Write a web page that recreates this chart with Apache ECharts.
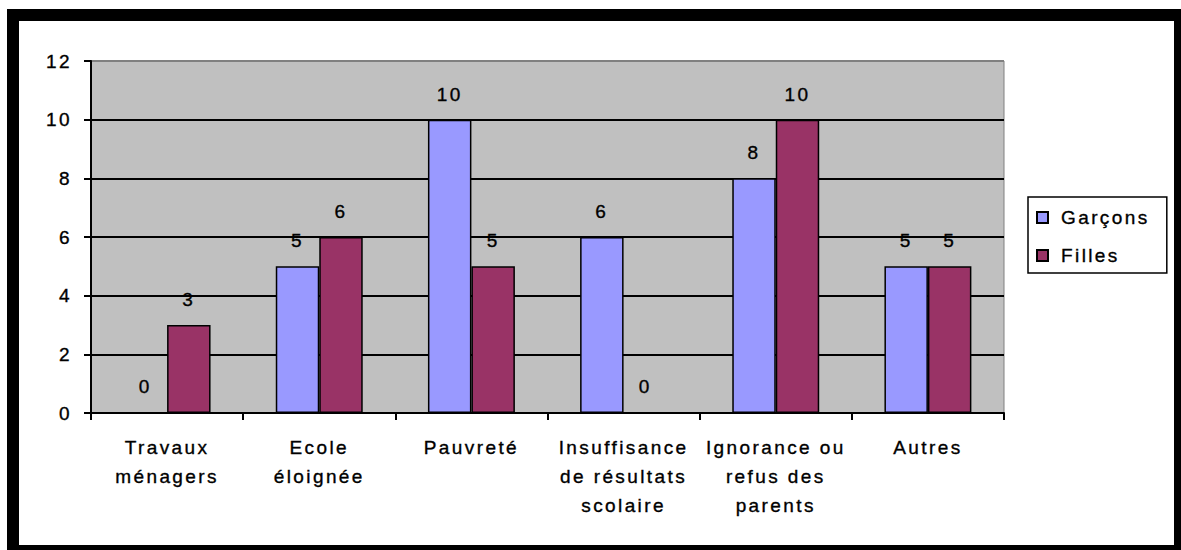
<!DOCTYPE html>
<html>
<head>
<meta charset="utf-8">
<script src="https://cdn.jsdelivr.net/npm/echarts@6/dist/echarts.min.js"></script>
<style>
html,body{margin:0;padding:0;width:1181px;height:550px;overflow:hidden;background:#fff;}
#chart{position:absolute;left:0;top:0;width:1181px;height:550px;}
#chart svg text{letter-spacing:2.4px;stroke:#000;stroke-width:0.35px;}
#frame{position:absolute;left:7px;top:9px;width:1155px;height:524px;border:12px solid #000;pointer-events:none;}
</style>
</head>
<body>
<div id="chart"></div>
<div id="frame"></div>
<script>
const categories = ["Travaux\nménagers", "Ecole\néloignée", "Pauvreté", "Insuffisance\nde résultats\nscolaire", "Ignorance ou\nrefus des\nparents", "Autres"];
const garcons = [0, 5, 10, 6, 8, 5];
const filles = [3, 6, 5, 0, 10, 5];
const seriesNames = ["Garçons", "Filles"];
const font = "'Liberation Sans', Arial, sans-serif";

const chart = echarts.init(document.getElementById('chart'), null, {renderer: 'svg'});
const labelCfg = {show: true, position: 'top', distance: 16, color: '#000', fontSize: 19, fontFamily: font};
chart.setOption({
  animation: false,
  backgroundColor: '#fff',
  grid: {left: 91, right: 177, top: 61, bottom: 137, show: true, backgroundColor: '#C0C0C0', borderColor: '#808080', borderWidth: 1},
  legend: {
    orient: 'vertical', left: 1028, top: 197,
    backgroundColor: '#fff', borderColor: '#000', borderWidth: 1.5, borderRadius: 0,
    padding: [11, 34, 8, 8], itemWidth: 11, itemHeight: 11, itemGap: 19,
    icon: 'rect',
    textStyle: {fontSize: 19, fontFamily: font, color: '#000', padding: [0, 0, 0, 8]},
    data: seriesNames
  },
  xAxis: {
    type: 'category', data: categories,
    axisLine: {lineStyle: {color: '#000', width: 2}},
    axisTick: {show: true, length: 7, lineStyle: {color: '#000', width: 2}},
    axisLabel: {color: '#000', fontSize: 19, fontFamily: font, lineHeight: 29, margin: 20, interval: 0}
  },
  yAxis: {
    type: 'value', min: 0, max: 12, interval: 2,
    axisLine: {show: true, lineStyle: {color: '#000', width: 2}},
    axisTick: {show: true, length: 7, lineStyle: {color: '#000', width: 2}},
    axisLabel: {color: '#000', fontSize: 19, fontFamily: font, margin: 19},
    splitLine: {show: true, lineStyle: {color: ['#000', '#000', '#000', '#000', '#000', '#000', '#808080'], width: 2}}
  },
  series: [
    {name: seriesNames[0], type: 'bar', data: garcons, barGap: '0%', barCategoryGap: '42.86%',
     itemStyle: {color: '#9999FF', borderColor: '#000', borderWidth: 1.5}, label: labelCfg},
    {name: seriesNames[1], type: 'bar', data: filles, barGap: '0%', barCategoryGap: '42.86%',
     itemStyle: {color: '#993366', borderColor: '#000', borderWidth: 1.5}, label: labelCfg}
  ]
});
</script>
</body>
</html>
